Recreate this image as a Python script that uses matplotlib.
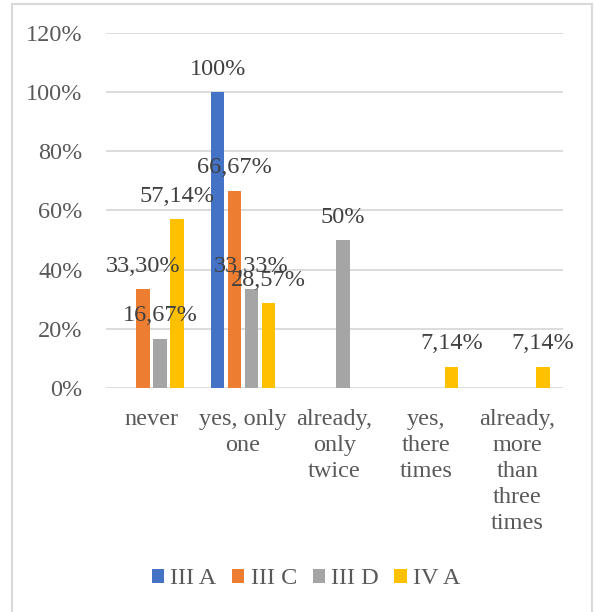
import numpy as np
import matplotlib.pyplot as plt
from matplotlib.patches import Rectangle

# Dados do gráfico
categories = ["never", "yes, only\none", "already,\nonly\ntwice", "yes,\nthere\ntimes",
              "already,\nmore\nthan\nthree\ntimes"]
series_names = ["III A", "III C", "III D", "IV A"]
iii_a = [0.0, 1.00, 0.0, 0.0, 0.0]
iii_c = [0.3330, 0.6667, 0.0, 0.0, 0.0]
iii_d = [0.1667, 0.3333, 0.50, 0.0, 0.0]
iv_a = [0.5714, 0.2857, 0.0, 0.0714, 0.0714]
colors = ["#4472C4", "#ED7D31", "#A5A5A5", "#FFC000"]
yticks = [0, 0.2, 0.4, 0.6, 0.8, 1.0, 1.2]

plt.rcParams['font.family'] = ['Liberation Serif', 'DejaVu Serif']
text_color = "#404040"
tick_color = "#595959"
fs = 17.5


def fmt_pct(v):
    p = v * 100
    if abs(p - round(p)) < 1e-9:
        return f"{int(round(p))}%"
    return f"{p:.2f}%".replace(".", ",")


fig = plt.figure(figsize=(5.94, 6.12), dpi=100)
ax = fig.add_axes([106 / 594, 1 - 388 / 612, (563 - 106) / 594, (388 - 33) / 612])

x = np.arange(len(categories))
step = 0.186
width = 0.148
all_series = [iii_a, iii_c, iii_d, iv_a]
for i, (name, vals, col) in enumerate(zip(series_names, all_series, colors)):
    pos = x + (i - 1.5) * step
    ax.bar(pos, vals, width=width, color=col, label=name, zorder=3)
    for px, v in zip(pos, vals):
        if v > 0:
            ax.annotate(fmt_pct(v), (px, v), xytext=(0, 16.5), textcoords="offset points",
                        ha="center", va="center", fontsize=fs, color=text_color, zorder=4)

ax.set_xlim(-0.5, len(categories) - 0.5)
ax.set_ylim(0, 1.2)
ax.set_yticks(yticks)
ax.set_yticklabels([f"{int(round(t * 100))}%" for t in yticks], fontsize=fs, color=tick_color)
ax.set_xticks(x)
ax.set_xticklabels(categories, fontsize=fs, color=tick_color, linespacing=1.32, va="top")
ax.tick_params(axis="both", length=0)
ax.tick_params(axis="y", pad=17)
ax.tick_params(axis="x", pad=15)
ax.grid(axis="y", color="#D9D9D9", linewidth=1.3, zorder=0)
for s in ax.spines.values():
    s.set_visible(False)

leg = fig.legend(loc="center", bbox_to_anchor=(306 / 594, 1 - 579 / 612), ncol=4, frameon=False,
                 fontsize=fs, handlelength=0.5, handleheight=0.5, handletextpad=0.25,
                 columnspacing=0.65)
for t in leg.get_texts():
    t.set_color(tick_color)

# cadre autour du graphique
fig.patches.append(Rectangle((12 / 594, -0.01), (592 - 12) / 594, 1 - 4 / 612 + 0.01,
                             transform=fig.transFigure, fill=False, edgecolor="#D9D9D9",
                             linewidth=1.5))

fig.savefig("out.png", dpi=100)
